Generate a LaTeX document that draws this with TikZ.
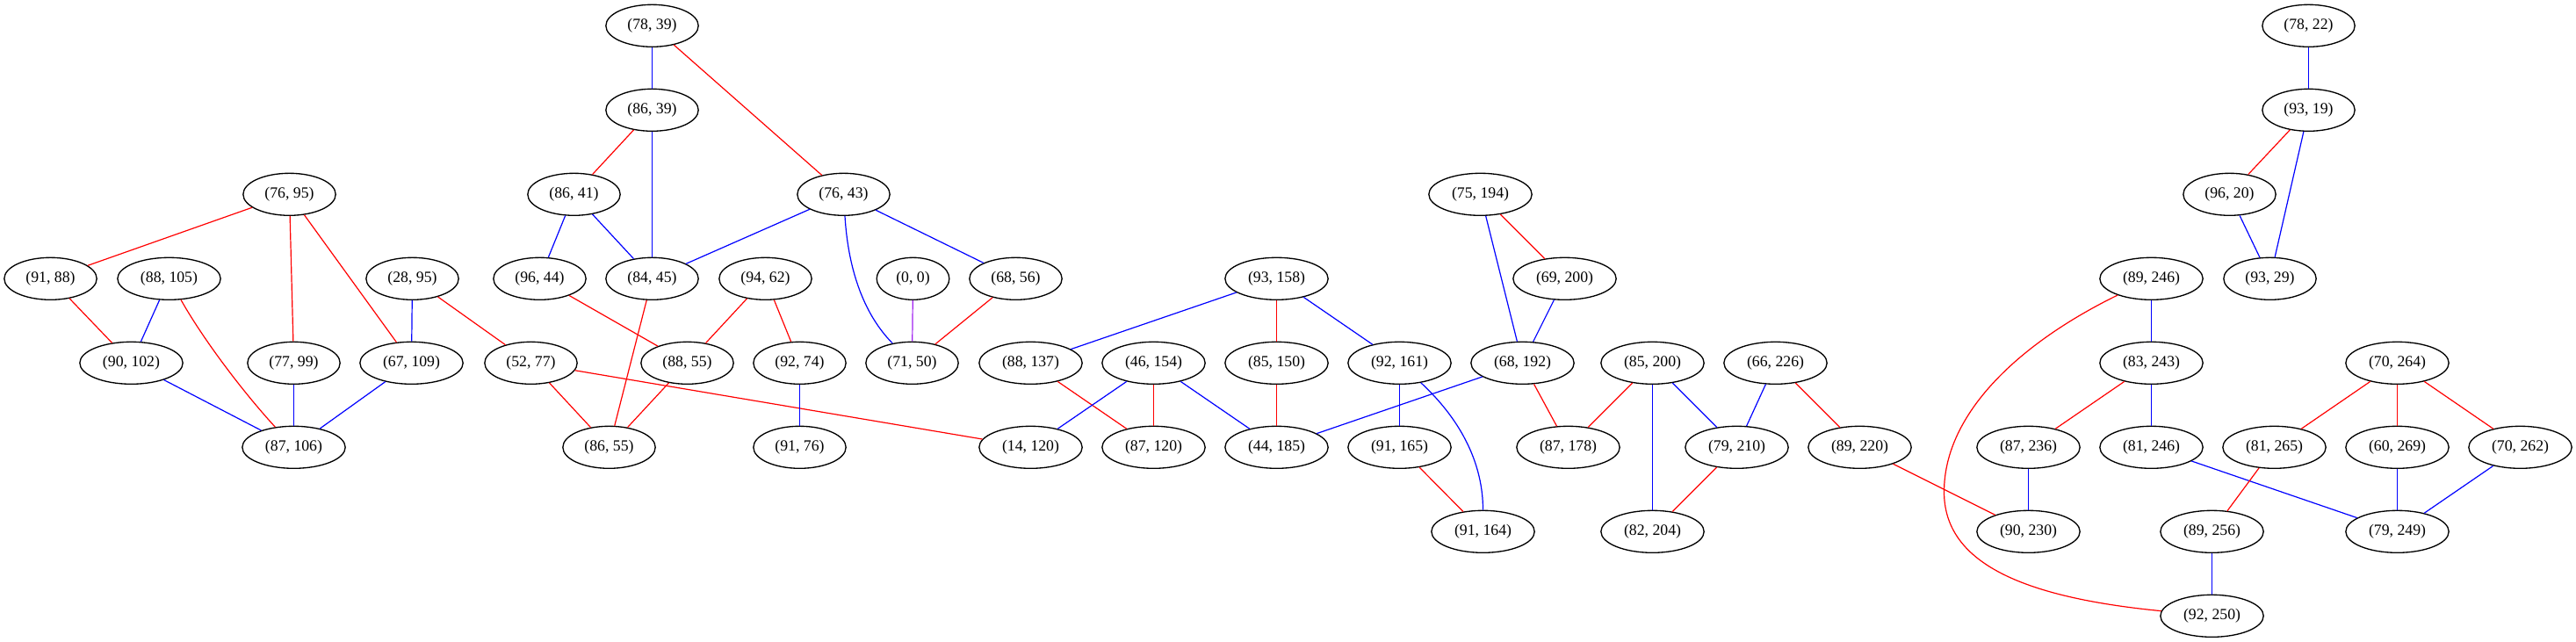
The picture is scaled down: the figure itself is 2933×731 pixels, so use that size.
\documentclass[tikz,border=0pt]{standalone}
\usepackage{fontspec}
\setmainfont{Liberation Serif}
\usetikzlibrary{shapes.geometric}
\definecolor{gvred}{HTML}{FF0000}
\definecolor{gvblue}{HTML}{0000FF}
\definecolor{gvpurple}{HTML}{A020F0}
\tikzset{
  gv/.style={ellipse, draw=black, line width=1pt, inner sep=0pt, minimum height=36pt, minimum width=79pt, font=\fontsize{13.3}{16}\selectfont},
  gw/.style={gv, minimum width=88pt},
  gs/.style={gv, minimum width=62pt},
  er/.style={draw=gvred, line width=0.9pt},
  eb/.style={draw=gvblue, line width=0.9pt},
  ep/.style={draw=gvpurple, line width=0.9pt}
}
\begin{document}
\begin{tikzpicture}[x=0.75pt, y=-0.75pt]
\useasboundingbox (0,0) rectangle (2933,731);
\begin{scope}[xshift=0.375pt]
% rank 0
\node[gv] (n78x39) at (742,29.3) {(78, 39)};
\node[gv] (n78x22) at (2628,29.3) {(78, 22)};
% rank 1
\node[gv] (n86x39) at (742,125.3) {(86, 39)};
\node[gv] (n93x19) at (2628,125.3) {(93, 19)};
% rank 2
\node[gv] (n76x95) at (329,221.3) {(76, 95)};
\node[gv] (n86x41) at (653,221.3) {(86, 41)};
\node[gv] (n76x43) at (960,221.3) {(76, 43)};
\node[gw] (n75x194) at (1685,221.3) {(75, 194)};
\node[gv] (n96x20) at (2538,221.3) {(96, 20)};
% rank 3
\node[gv] (n91x88) at (57,317.3) {(91, 88)};
\node[gw] (n88x105) at (192,317.3) {(88, 105)};
\node[gv] (n28x95) at (469,317.3) {(28, 95)};
\node[gv] (n96x44) at (614,317.3) {(96, 44)};
\node[gv] (n84x45) at (742,317.3) {(84, 45)};
\node[gv] (n94x62) at (871,317.3) {(94, 62)};
\node[gs] (n0x0) at (1039,317.3) {(0, 0)};
\node[gv] (n68x56) at (1156,317.3) {(68, 56)};
\node[gw] (n93x158) at (1453,317.3) {(93, 158)};
\node[gw] (n69x200) at (1781,317.3) {(69, 200)};
\node[gw] (n89x246) at (2449,317.3) {(89, 246)};
\node[gv] (n93x29) at (2584,317.3) {(93, 29)};
% rank 4
\node[gw] (n90x102) at (149,413.3) {(90, 102)};
\node[gv] (n77x99) at (334,413.3) {(77, 99)};
\node[gw] (n67x109) at (468,413.3) {(67, 109)};
\node[gv] (n52x77) at (604,413.3) {(52, 77)};
\node[gv] (n88x55) at (782,413.3) {(88, 55)};
\node[gv] (n92x74) at (910,413.3) {(92, 74)};
\node[gv] (n71x50) at (1038,413.3) {(71, 50)};
\node[gw] (n88x137) at (1173,413.3) {(88, 137)};
\node[gw] (n46x154) at (1313,413.3) {(46, 154)};
\node[gw] (n85x150) at (1453,413.3) {(85, 150)};
\node[gw] (n92x161) at (1593,413.3) {(92, 161)};
\node[gw] (n68x192) at (1733,413.3) {(68, 192)};
\node[gw] (n85x200) at (1881,413.3) {(85, 200)};
\node[gw] (n66x226) at (2021,413.3) {(66, 226)};
\node[gw] (n83x243) at (2449,413.3) {(83, 243)};
\node[gw] (n70x264) at (2729,413.3) {(70, 264)};
% rank 5
\node[gw] (n87x106) at (334,509.3) {(87, 106)};
\node[gv] (n86x55) at (693,509.3) {(86, 55)};
\node[gv] (n91x76) at (910,509.3) {(91, 76)};
\node[gw] (n14x120) at (1173,509.3) {(14, 120)};
\node[gw] (n87x120) at (1313,509.3) {(87, 120)};
\node[gw] (n44x185) at (1453,509.3) {(44, 185)};
\node[gw] (n91x165) at (1593,509.3) {(91, 165)};
\node[gw] (n87x178) at (1785,509.3) {(87, 178)};
\node[gw] (n79x210) at (1977,509.3) {(79, 210)};
\node[gw] (n89x220) at (2117,509.3) {(89, 220)};
\node[gw] (n87x236) at (2309,509.3) {(87, 236)};
\node[gw] (n81x246) at (2449,509.3) {(81, 246)};
\node[gw] (n81x265) at (2589,509.3) {(81, 265)};
\node[gw] (n60x269) at (2729,509.3) {(60, 269)};
\node[gw] (n70x262) at (2869,509.3) {(70, 262)};
% rank 6
\node[gw] (n91x164) at (1688,605.3) {(91, 164)};
\node[gw] (n82x204) at (1881,605.3) {(82, 204)};
\node[gw] (n90x230) at (2309,605.3) {(90, 230)};
\node[gw] (n89x256) at (2518,605.3) {(89, 256)};
\node[gw] (n79x249) at (2729,605.3) {(79, 249)};
% rank 7
\node[gw] (n92x250) at (2518,701.3) {(92, 250)};
\coordinate (via) at (2213,560);

% left component
\draw[er] (n76x95) -- (n91x88);
\draw[er] (n76x95) -- (n77x99);
\draw[er] (n76x95) -- (n67x109);
\draw[er] (n91x88) -- (n90x102);
\draw[eb] (n88x105) -- (n90x102);
\draw[er] (n88x105) .. controls (230,385) and (275,445) .. (n87x106);
\draw[eb] (n90x102) -- (n87x106);
\draw[eb] (n77x99) -- (n87x106);
\draw[eb] (n67x109) -- (n87x106);
\draw[eb] (n28x95) -- (n67x109);
\draw[er] (n28x95) -- (n52x77);
% middle
\draw[eb] (n78x39) -- (n86x39);
\draw[er] (n78x39) -- (n76x43);
\draw[er] (n86x39) -- (n86x41);
\draw[eb] (n86x39) -- (n84x45);
\draw[eb] (n86x41) -- (n96x44);
\draw[eb] (n86x41) -- (n84x45);
\draw[eb] (n76x43) -- (n84x45);
\draw[eb] (n76x43) .. controls (966,320) and (990,365) .. (n71x50);
\draw[eb] (n76x43) -- (n68x56);
\draw[er] (n96x44) -- (n88x55);
\draw[er] (n84x45) -- (n86x55);
\draw[er] (n94x62) -- (n88x55);
\draw[er] (n94x62) -- (n92x74);
\draw[ep] (n0x0) -- (n71x50);
\draw[er] (n68x56) -- (n71x50);
\draw[er] (n52x77) -- (n86x55);
\draw[er] (n52x77) -- (n14x120);
\draw[er] (n88x55) -- (n86x55);
\draw[eb] (n92x74) -- (n91x76);
\draw[eb] (n93x158) -- (n88x137);
\draw[er] (n93x158) -- (n85x150);
\draw[eb] (n93x158) -- (n92x161);
\draw[er] (n88x137) -- (n87x120);
\draw[eb] (n46x154) -- (n14x120);
\draw[er] (n46x154) -- (n87x120);
\draw[eb] (n46x154) -- (n44x185);
\draw[er] (n85x150) -- (n44x185);
\draw[eb] (n92x161) -- (n91x165);
\draw[eb] (n92x161) .. controls (1665,480) and (1688,530) .. (n91x164);
\draw[er] (n91x165) -- (n91x164);
\draw[eb] (n75x194) -- (n68x192);
\draw[er] (n75x194) -- (n69x200);
\draw[eb] (n69x200) -- (n68x192);
\draw[eb] (n68x192) -- (n44x185);
\draw[er] (n68x192) -- (n87x178);
\draw[er] (n85x200) -- (n87x178);
\draw[eb] (n85x200) -- (n82x204);
\draw[eb] (n85x200) -- (n79x210);
\draw[eb] (n66x226) -- (n79x210);
\draw[er] (n66x226) -- (n89x220);
\draw[er] (n79x210) -- (n82x204);
\draw[er] (n89x220) -- (n90x230);
% right
\draw[eb] (n89x246) -- (n83x243);
\draw[er] (n89x246) .. controls (2300,390) and (2213,470) .. (via) .. controls (2213,640) and (2300,680) .. (n92x250);
\draw[er] (n83x243) -- (n87x236);
\draw[eb] (n83x243) -- (n81x246);
\draw[eb] (n87x236) -- (n90x230);
\draw[eb] (n81x246) -- (n79x249);
\draw[er] (n70x264) -- (n81x265);
\draw[er] (n70x264) -- (n60x269);
\draw[er] (n70x264) -- (n70x262);
\draw[er] (n81x265) -- (n89x256);
\draw[eb] (n60x269) -- (n79x249);
\draw[eb] (n70x262) -- (n79x249);
\draw[eb] (n89x256) -- (n92x250);
\draw[eb] (n78x22) -- (n93x19);
\draw[er] (n93x19) -- (n96x20);
\draw[eb] (n93x19) -- (n93x29);
\draw[eb] (n96x20) -- (n93x29);
\end{scope}
\end{tikzpicture}
\end{document}
